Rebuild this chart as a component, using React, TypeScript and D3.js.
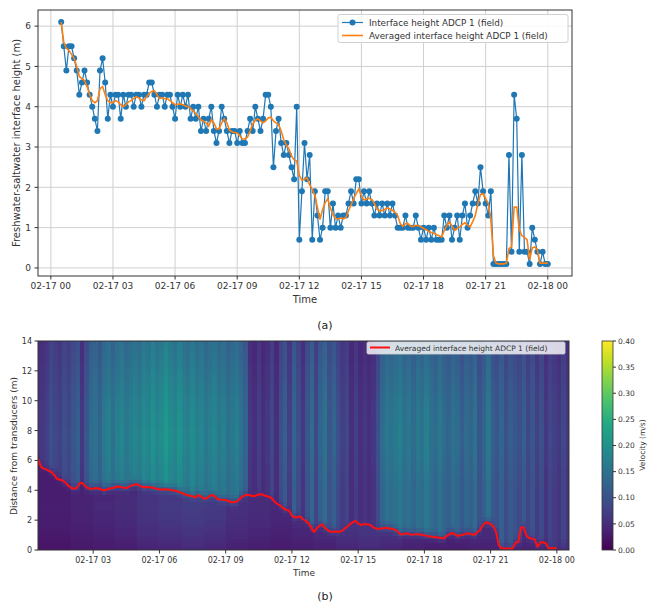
import React from 'react';
import * as d3 from 'd3';

// samples every 7.5 min starting at 00:30 on 02-17 (hours since midnight)
const T0 = 0.5;
const STEP = 1 / 8;

// raw interface height, ADCP 1 (m)
const interfaceHeight = [
  6.1, 5.5, 4.9, 5.5, 5.5, 5.2, 4.9, 4.3,
  4.6, 4.9, 4.6, 4.3, 4.0, 3.7, 3.4, 4.9,
  5.2, 4.6, 3.7, 4.3, 4.0, 4.3, 4.3, 3.7,
  4.3, 4.0, 4.3, 4.3, 4.0, 4.3, 4.3, 4.0,
  4.3, 4.3, 4.6, 4.6, 4.3, 4.0, 4.3, 4.3,
  4.0, 4.3, 4.3, 4.0, 3.7, 4.3, 4.0, 4.3,
  4.0, 4.3, 3.7, 4.0, 3.7, 4.0, 3.4, 3.7,
  3.4, 3.7, 4.0, 3.4, 3.1, 3.4, 4.0, 3.7,
  3.4, 3.1, 3.4, 3.4, 3.1, 3.4, 3.1, 3.1,
  3.4, 3.7, 3.4, 4.0, 3.7, 3.4, 3.7, 4.3,
  4.3, 4.0, 2.5, 3.4, 3.7, 3.1, 2.8, 3.1,
  2.8, 2.5, 2.2, 4.0, 0.7, 1.9, 3.1, 2.2,
  2.8, 0.7, 1.9, 1.3, 0.7, 1.0, 1.9, 1.9,
  1.0, 1.6, 1.0, 1.3, 1.0, 1.3, 1.3, 1.6,
  1.9, 1.6, 2.2, 2.2, 1.6, 1.9, 1.6, 1.9,
  1.6, 1.3, 1.6, 1.3, 1.6, 1.3, 1.6, 1.3,
  1.6, 1.3, 1.0, 1.0, 1.0, 1.3, 1.0, 1.0,
  1.0, 1.3, 1.0, 0.7, 1.0, 0.7, 1.0, 0.7,
  1.0, 0.7, 0.7, 0.7, 1.3, 1.0, 1.3, 0.7,
  1.0, 1.3, 0.7, 1.3, 1.6, 1.0, 1.3, 1.6,
  1.9, 1.6, 2.5, 1.9, 1.6, 1.3, 1.9, 0.1,
  0.1, 0.1, 0.1, 0.1, 0.1, 2.8, 0.4, 4.3,
  3.7, 0.4, 2.8, 0.4, 0.4, 0.1, 1.0, 0.7,
  0.4, 0.1, 0.4, 0.1, 0.1,
];

// averaged interface height, same time stamps (m)
const averagedHeight = [
  6.1, 5.6, 5.45, 5.4, 5.3, 5.2, 5.0, 4.75,
  4.7, 4.65, 4.5, 4.3, 4.15, 4.1, 4.15, 4.45,
  4.5, 4.3, 4.15, 4.1, 4.1, 4.15, 4.12, 4.05,
  4.0, 4.05, 4.12, 4.15, 4.2, 4.25, 4.22, 4.17,
  4.15, 4.25, 4.33, 4.38, 4.4, 4.3, 4.2, 4.22,
  4.2, 4.2, 4.15, 4.1, 4.05, 4.06, 4.07, 4.05,
  4.02, 4.0, 3.95, 3.9, 3.83, 3.75, 3.68, 3.64,
  3.6, 3.52, 3.68, 3.6, 3.45, 3.45, 3.6, 3.7,
  3.6, 3.42, 3.38, 3.36, 3.35, 3.28, 3.2, 3.2,
  3.25, 3.4, 3.58, 3.66, 3.7, 3.65, 3.6, 3.65,
  3.72, 3.74, 3.65, 3.6, 3.56, 3.4, 3.18, 3.05,
  2.95, 2.78, 2.68, 2.65, 2.3, 2.18, 2.2, 2.24,
  2.06, 1.95, 1.8, 1.5, 1.2, 1.45, 1.62, 1.72,
  1.48, 1.32, 1.22, 1.22, 1.24, 1.22, 1.25, 1.42,
  1.56, 1.72, 1.85, 1.96, 1.78, 1.68, 1.72, 1.73,
  1.7, 1.6, 1.46, 1.42, 1.42, 1.45, 1.49, 1.46,
  1.43, 1.38, 1.3, 1.1, 1.03, 1.1, 1.1, 1.04,
  1.03, 1.06, 1.05, 1.02, 0.98, 0.95, 0.91, 0.88,
  0.86, 0.83, 0.8, 0.77, 0.93, 1.05, 1.14, 1.04,
  0.94, 0.98, 1.02, 1.08, 1.12, 1.06, 1.02, 1.15,
  1.3, 1.6, 1.82, 1.84, 1.72, 1.6, 1.2, 0.3,
  0.12, 0.1, 0.1, 0.1, 0.12, 0.48, 0.52, 1.51,
  1.51, 0.95, 0.8, 0.76, 0.7, 0.2, 0.5, 0.52,
  0.45, 0.12, 0.12, 0.12, 0.12,
];

// velocity above the interface, one column every 12 min from 00:24 (m/s)
const HEAT_T0 = 0.4;
const HEAT_STEP = 0.2;
const upperVelocity = [
  0.06, 0.06, 0.07, 0.09, 0.08, 0.07, 0.09, 0.08, 0.10, 0.11,
  0.06, 0.10, 0.13, 0.14, 0.12, 0.15, 0.16, 0.14, 0.16, 0.17,
  0.15, 0.16, 0.17, 0.16, 0.18, 0.17, 0.19, 0.17, 0.18, 0.20,
  0.18, 0.17, 0.19, 0.17, 0.16, 0.18, 0.16, 0.17, 0.15, 0.16,
  0.17, 0.15, 0.16, 0.14, 0.15, 0.16, 0.14, 0.12, 0.06, 0.05,
  0.07, 0.05, 0.06, 0.08, 0.05, 0.09, 0.11, 0.07, 0.12, 0.09,
  0.06, 0.10, 0.13, 0.08, 0.12, 0.14, 0.10, 0.12, 0.09, 0.07,
  0.08, 0.05, 0.07, 0.05, 0.06, 0.05, 0.06, 0.09, 0.13, 0.15,
  0.14, 0.15, 0.16, 0.14, 0.15, 0.13, 0.15, 0.14, 0.16, 0.14,
  0.13, 0.15, 0.13, 0.12, 0.14, 0.13, 0.11, 0.13, 0.12, 0.14,
  0.10, 0.12, 0.15, 0.11, 0.10, 0.12, 0.09, 0.11, 0.10, 0.09,
  0.11, 0.08, 0.10, 0.07, 0.09, 0.06, 0.08, 0.07, 0.06, 0.08,
  0.06, 0.07, 0.06,
];

// velocity below the interface, hourly (m/s)
const lowerVelocity = [
  0.03, 0.03, 0.035, 0.04, 0.045, 0.055, 0.06, 0.065, 0.06, 0.05,
  0.045, 0.04, 0.045, 0.05, 0.06, 0.065, 0.06, 0.05, 0.045, 0.045,
  0.05, 0.05, 0.055, 0.06, 0.06,
];

// how velocity changes with distance from transducers, at 0 m, 1 m, ... 14 m
const upperDepthFactor = [1.0, 1.0, 1.0, 1.0, 1.0, 1.02, 1.05, 1.08, 1.08, 1.06, 1.04, 1.0, 0.96, 0.92, 0.88];
const lowerDepthFactor = [0.7, 0.9, 1.05, 1.1, 1.05, 1.0, 1.0, 1.0, 1.0, 1.0, 1.0, 1.0, 1.0, 1.0, 1.0];

const hourTicks = [0, 3, 6, 9, 12, 15, 18, 21, 24];
const hourLabels = ['02-17 00', '02-17 03', '02-17 06', '02-17 09', '02-17 12', '02-17 15', '02-17 18', '02-17 21', '02-18 00'];
const heightTicks = [0, 1, 2, 3, 4, 5, 6];
const distanceTicks = [0, 2, 4, 6, 8, 10, 12, 14];
const velocityTicks = [0, 0.05, 0.1, 0.15, 0.2, 0.25, 0.3, 0.35, 0.4];

const FONT = 'DejaVu Sans, sans-serif';
const BLUE = '#1f77b4';
const ORANGE = '#ff7f0e';

const clamp = (v: number, a: number, b: number) => Math.max(a, Math.min(b, v));

export default function App() {
  const times = interfaceHeight.map((_, i) => T0 + i * STEP);

  // ---- panel (a)
  const xTop = d3.scaleLinear().domain([-0.62, 25.17]).range([38, 572]);
  const yTop = d3.scaleLinear().domain([-0.2, 6.4]).range([276, 10]);
  const lineTop = d3.line<number>().x((_, i) => xTop(times[i])).y(d => yTop(d));

  // ---- panel (b)
  const xBot = d3.scaleLinear().domain([0.5, 24.55]).range([38, 569]);
  const yBot = d3.scaleLinear().domain([0, 14]).range([550, 341]);
  const color = d3.scaleSequential(d3.interpolateViridis).domain([0, 0.4]);
  const yBar = d3.scaleLinear().domain([0, 0.4]).range([550, 341]);
  const lineBot = d3.line<number>().x((_, i) => xBot(times[i])).y(d => yBot(d));

  // depth factors looked up between the 1 m readings
  const upFactor = d3.scaleLinear().domain(d3.range(upperDepthFactor.length)).range(upperDepthFactor);
  const loFactor = d3.scaleLinear().domain(d3.range(lowerDepthFactor.length)).range(lowerDepthFactor);

  const DZ = 0.25;
  const cells: { x: number; y: number; w: number; h: number; fill: string }[] = [];
  upperVelocity.forEach((u, k) => {
    const t0 = HEAT_T0 + k * HEAT_STEP;
    const t1 = t0 + HEAT_STEP;
    const tc = (t0 + t1) / 2;
    const iface = averagedHeight[clamp(Math.round((tc - T0) / STEP), 0, averagedHeight.length - 1)];
    const low = lowerVelocity[clamp(Math.floor(tc), 0, lowerVelocity.length - 1)];
    for (let z = 0; z < 14; z += DZ) {
      const zc = z + DZ / 2;
      const up = u * upFactor(zc);
      const lo = low * loFactor(zc);
      const w = d3.easeSinInOut(clamp((zc - iface + 0.5) / 1.2, 0, 1));
      cells.push({
        x: xBot(t0),
        w: xBot(t1) - xBot(t0) + 0.6,
        y: yBot(z + DZ),
        h: yBot(z) - yBot(z + DZ) + 0.6,
        fill: color(lo + (up - lo) * w),
      });
    }
  });

  const gradStops = d3.range(0, 1.0001, 0.1);

  return (
    <svg width={649} height={603} style={{ position: 'absolute', left: 0, top: 0, background: '#fff' }} fontFamily={FONT}>
      <defs>
        <clipPath id="clipTop"><rect x={38} y={10} width={534} height={266} /></clipPath>
        <clipPath id="clipBot"><rect x={38} y={341} width={531} height={209} /></clipPath>
        <linearGradient id="viridis" x1="0" y1="1" x2="0" y2="0">
          {gradStops.map(s => <stop key={s} offset={s} stopColor={d3.interpolateViridis(s)} />)}
        </linearGradient>
      </defs>

      {/* ================= panel (a) ================= */}
      <g>
        {hourTicks.map(t => (
          <line key={'gx' + t} x1={xTop(t)} x2={xTop(t)} y1={10} y2={276} stroke="#cfcfcf" strokeWidth={1} />
        ))}
        {heightTicks.map(v => (
          <line key={'gy' + v} x1={38} x2={572} y1={yTop(v)} y2={yTop(v)} stroke="#cfcfcf" strokeWidth={1} />
        ))}
        <g clipPath="url(#clipTop)">
          <path d={lineTop(interfaceHeight) ?? ''} fill="none" stroke={BLUE} strokeWidth={1.2} />
          {interfaceHeight.map((v, i) => (
            <circle key={i} cx={xTop(times[i])} cy={yTop(v)} r={3} fill={BLUE} />
          ))}
          <path d={lineTop(averagedHeight) ?? ''} fill="none" stroke={ORANGE} strokeWidth={1.6} />
        </g>
        <rect x={38} y={10} width={534} height={266} fill="none" stroke="#333" strokeWidth={1} />
        {hourTicks.map((t, i) => (
          <g key={'tx' + t}>
            <line x1={xTop(t)} x2={xTop(t)} y1={276} y2={279.5} stroke="#333" />
            <text x={xTop(t)} y={289} fontSize={9} textAnchor="middle" fill="#333">{hourLabels[i]}</text>
          </g>
        ))}
        {heightTicks.map(v => (
          <g key={'ty' + v}>
            <line x1={34.5} x2={38} y1={yTop(v)} y2={yTop(v)} stroke="#333" />
            <text x={31} y={yTop(v) + 3.3} fontSize={9} textAnchor="end" fill="#333">{v}</text>
          </g>
        ))}
        <text x={305} y={303} fontSize={10} textAnchor="middle" fill="#333">Time</text>
        <text transform="translate(20,143) rotate(-90)" fontSize={10} textAnchor="middle" fill="#333">
          Freshwater-saltwater interface height (m)
        </text>

        {/* legend */}
        <rect x={338} y={14.5} width={230} height={28} rx={2} fill="#fff" fillOpacity={0.9} stroke="#d0d0d0" />
        <line x1={342} x2={363} y1={22.5} y2={22.5} stroke={BLUE} strokeWidth={1.2} />
        <circle cx={352.5} cy={22.5} r={3} fill={BLUE} />
        <text x={369} y={25.7} fontSize={8.8} fill="#333">Interface height ADCP 1 (field)</text>
        <line x1={342} x2={363} y1={35.5} y2={35.5} stroke={ORANGE} strokeWidth={1.6} />
        <text x={369} y={38.7} fontSize={8.8} fill="#333">Averaged interface height ADCP 1 (field)</text>

        <text x={325} y={329} fontSize={11} textAnchor="middle" fill="#222">(a)</text>
      </g>

      {/* ================= panel (b) ================= */}
      <g>
        <g clipPath="url(#clipBot)" shapeRendering="crispEdges">
          {cells.map((c, i) => (
            <rect key={i} x={c.x} y={c.y} width={c.w} height={c.h} fill={c.fill} />
          ))}
        </g>
        <g clipPath="url(#clipBot)">
          <path d={lineBot(averagedHeight) ?? ''} fill="none" stroke="#ff1010" strokeWidth={2} strokeLinejoin="round" />
        </g>
        <rect x={38} y={341} width={531} height={209} fill="none" stroke="#333" strokeWidth={1} />
        {hourTicks.filter(t => t >= 0.5).map(t => (
          <g key={'bx' + t}>
            <line x1={xBot(t)} x2={xBot(t)} y1={550} y2={553.5} stroke="#333" />
            <text x={xBot(t)} y={563} fontSize={8} textAnchor="middle" fill="#333">{hourLabels[hourTicks.indexOf(t)]}</text>
          </g>
        ))}
        {distanceTicks.map(v => (
          <g key={'by' + v}>
            <line x1={34.5} x2={38} y1={yBot(v)} y2={yBot(v)} stroke="#333" />
            <text x={32} y={yBot(v) + 3} fontSize={8} textAnchor="end" fill="#333">{v}</text>
          </g>
        ))}
        <text x={304} y={576} fontSize={9} textAnchor="middle" fill="#333">Time</text>
        <text transform="translate(17,446) rotate(-90)" fontSize={9} textAnchor="middle" fill="#333">
          Distance from transducers (m)
        </text>

        {/* legend */}
        <rect x={367} y={342} width={198} height={12} rx={1.5} fill="#fff" fillOpacity={0.8} stroke="#d0d0d0" strokeWidth={0.8} />
        <line x1={370} x2={390} y1={347.5} y2={347.5} stroke="#ff1010" strokeWidth={2} />
        <text x={395} y={350.5} fontSize={7.5} fill="#333">Averaged interface height ADCP 1 (field)</text>

        {/* colorbar */}
        <rect x={602} y={341} width={11} height={209} fill="url(#viridis)" stroke="#333" strokeWidth={0.8} />
        {velocityTicks.map(v => (
          <g key={'cb' + v}>
            <line x1={613} x2={616} y1={yBar(v)} y2={yBar(v)} stroke="#333" />
            <text x={618} y={yBar(v) + 2.7} fontSize={7.5} fill="#333">{v.toFixed(2)}</text>
          </g>
        ))}
        <text transform="translate(645,445) rotate(-90)" fontSize={7.5} textAnchor="middle" fill="#333">Velocity (m/s)</text>

        <text x={325} y={600} fontSize={11} textAnchor="middle" fill="#222">(b)</text>
      </g>
    </svg>
  );
}
